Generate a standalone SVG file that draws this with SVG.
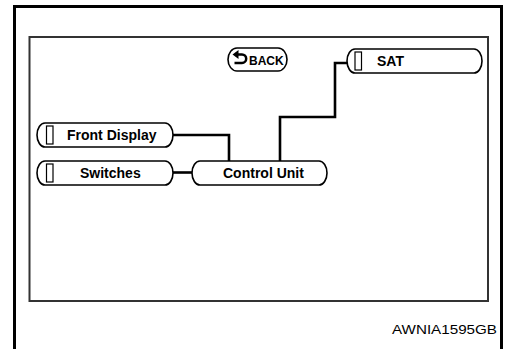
<svg xmlns="http://www.w3.org/2000/svg" width="505" height="349" viewBox="0 0 505 349">
<style>
.pill{fill:#fff;stroke:#000;stroke-width:1.6}
.tab{fill:#fff;stroke:#000;stroke-width:1.2}
.lbl{font-family:"Liberation Sans",Arial,sans-serif;font-weight:bold;font-size:14px;fill:#000}
.wire{fill:none;stroke:#000;stroke-width:2.6}
</style>
<rect width="505" height="349" fill="#fff"/>
<path d="M14.5 349 V6.5 H501.5 V349" fill="none" stroke="#000" stroke-width="3"/>
<rect x="29.5" y="37" width="458.5" height="264" fill="none" stroke="#333" stroke-width="2"/>
<g id="connectors">
<path class="wire" d="M347 63 H335 V117 H280 V161"/>
<path class="wire" d="M173 135 H229 V161"/>
<path class="wire" d="M173 172.5 H192"/>
</g>
<g id="back">
<rect class="pill" x="228" y="48" width="59" height="23" rx="9" ry="11.5"/>
<path d="M232.5 54.5 L238.5 50 V59 Z" fill="#000"/>
<path d="M238 54.5 H242 A4.2 4.2 0 0 1 242 62.9 H234.5" fill="none" stroke="#000" stroke-width="2.5"/>
<text x="249" y="64.5" style="font-family:'Liberation Sans',Arial,sans-serif;font-weight:bold;font-size:12px">BACK</text>
</g>
<g id="sat">
<rect class="pill" x="347" y="49" width="135" height="24" rx="8" ry="12"/>
<rect class="tab" x="355" y="52" width="6.5" height="18"/>
<text class="lbl" x="377" y="66">SAT</text>
</g>
<g id="front-display">
<rect class="pill" x="37" y="123" width="136" height="24" rx="8" ry="12"/>
<rect class="tab" x="46.5" y="126" width="6.5" height="18"/>
<text class="lbl" x="67" y="140">Front Display</text>
</g>
<g id="switches">
<rect class="pill" x="37" y="161" width="136" height="24" rx="8" ry="12"/>
<rect class="tab" x="46.5" y="164" width="6.5" height="18"/>
<text class="lbl" x="80" y="178">Switches</text>
</g>
<g id="control-unit">
<rect class="pill" x="192" y="161" width="135" height="24" rx="8" ry="12"/>
<text class="lbl" x="223" y="178">Control Unit</text>
</g>
<text x="392" y="334" textLength="105" lengthAdjust="spacingAndGlyphs" style="font-family:'Liberation Sans',Arial,sans-serif;font-size:13px">AWNIA1595GB</text>
</svg>
